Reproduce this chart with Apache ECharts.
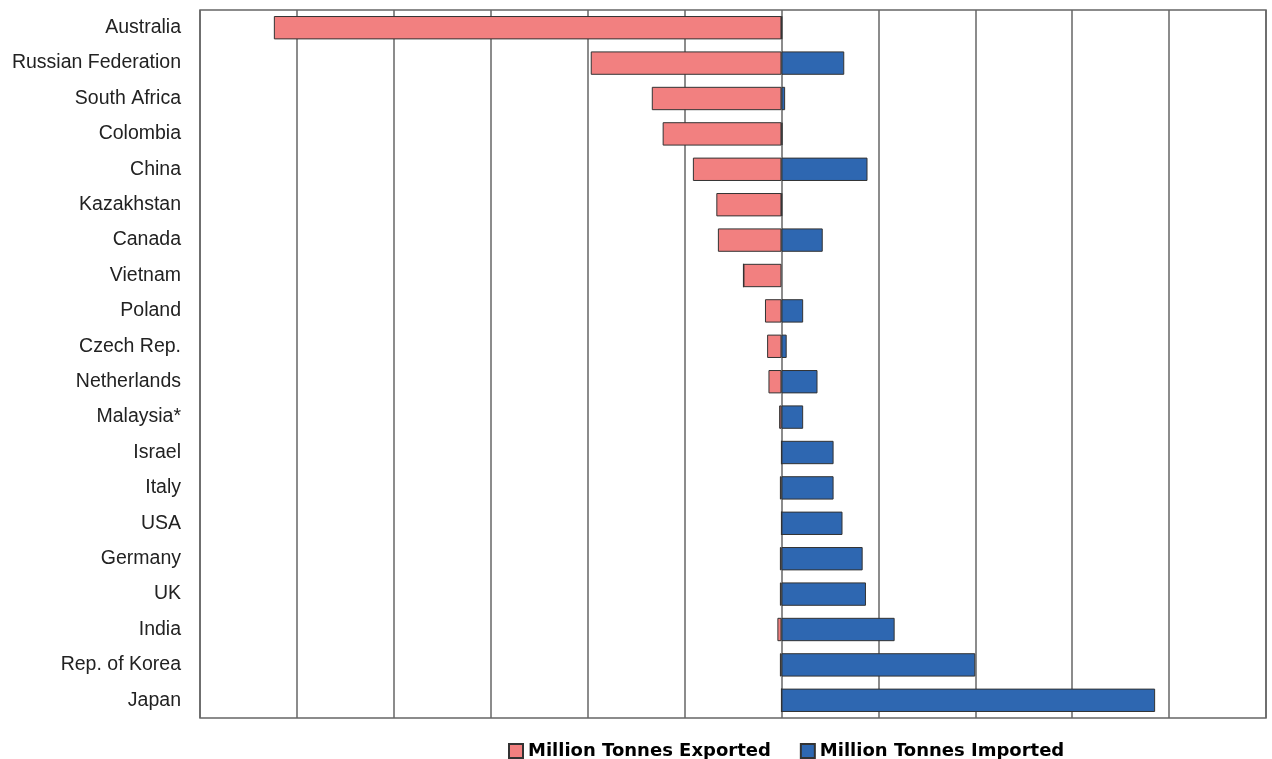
<!DOCTYPE html>
<html>
<head>
<meta charset="utf-8">
<script src="https://cdn.jsdelivr.net/npm/echarts@6/dist/echarts.min.js"></script>
<style>
  html, body { margin: 0; padding: 0; background: #fff; }
  #main { width: 1272px; height: 759px; }
</style>
</head>
<body>
<div id="main"></div>
<script>
var countries = [
    'Australia', 'Russian Federation', 'South Africa', 'Colombia', 'China',
    'Kazakhstan', 'Canada', 'Vietnam', 'Poland', 'Czech Rep.',
    'Netherlands', 'Malaysia*', 'Israel', 'Italy', 'USA',
    'Germany', 'UK', 'India', 'Rep. of Korea', 'Japan'
];
// exports shown as negative values (left of zero)
var exported = [
    -261.9, -98.4, -66.9, -61.3, -45.7,
    -33.6, -32.8, -19.6, -8.5, -7.4,
    -6.7, -1.2, 0, -0.8, 0,
    -0.8, -0.8, -2.1, -0.8, 0
];
var imported = [
    0.3, 32.4, 1.9, 0.5, 44.4,
    0.3, 21.3, 0, 11.2, 2.7,
    18.6, 11.2, 26.9, 26.9, 31.5,
    41.9, 43.6, 58.4, 100.0, 192.8
];

var myChart = echarts.init(document.getElementById('main'));
var option = {
    animation: false,
    textStyle: { fontFamily: 'Liberation Sans, Arial, sans-serif' },
    grid: {
        left: 200,
        right: 6,
        top: 10,
        bottom: 41,
        show: true,
        borderColor: '#666',
        borderWidth: 1.5
    },
    legend: {
        top: 737,
        left: 503,
        itemWidth: 14,
        itemHeight: 14,
        itemGap: 29,
        icon: 'rect',
        textStyle: {
            fontFamily: 'DejaVu Sans',
            fontSize: 18,
            fontWeight: 'bold',
            color: '#000'
        },
        data: ['Million Tonnes Exported', 'Million Tonnes Imported']
    },
    xAxis: {
        type: 'value',
        min: -300,
        max: 250,
        interval: 50,
        axisLabel: { show: false },
        axisTick: { show: false },
        axisLine: { show: false },
        splitLine: { show: true, lineStyle: { color: '#666', width: 1.5 } }
    },
    yAxis: {
        type: 'category',
        inverse: true,
        data: countries,
        axisTick: { show: false },
        axisLine: { show: false },
        axisLabel: { fontSize: 19.5, color: '#222', margin: 19, padding: [4, 0, 0, 0] }
    },
    series: [
        {
            name: 'Million Tonnes Exported',
            type: 'bar',
            stack: 'trade',
            barWidth: '66%',
            data: exported,
            itemStyle: { color: '#f28080', borderColor: '#333', borderWidth: 1 }
        },
        {
            name: 'Million Tonnes Imported',
            type: 'bar',
            stack: 'trade',
            barWidth: '66%',
            data: imported,
            itemStyle: { color: '#2e67b1', borderColor: '#333', borderWidth: 1 }
        }
    ]
};
myChart.setOption(option);
</script>
</body>
</html>
